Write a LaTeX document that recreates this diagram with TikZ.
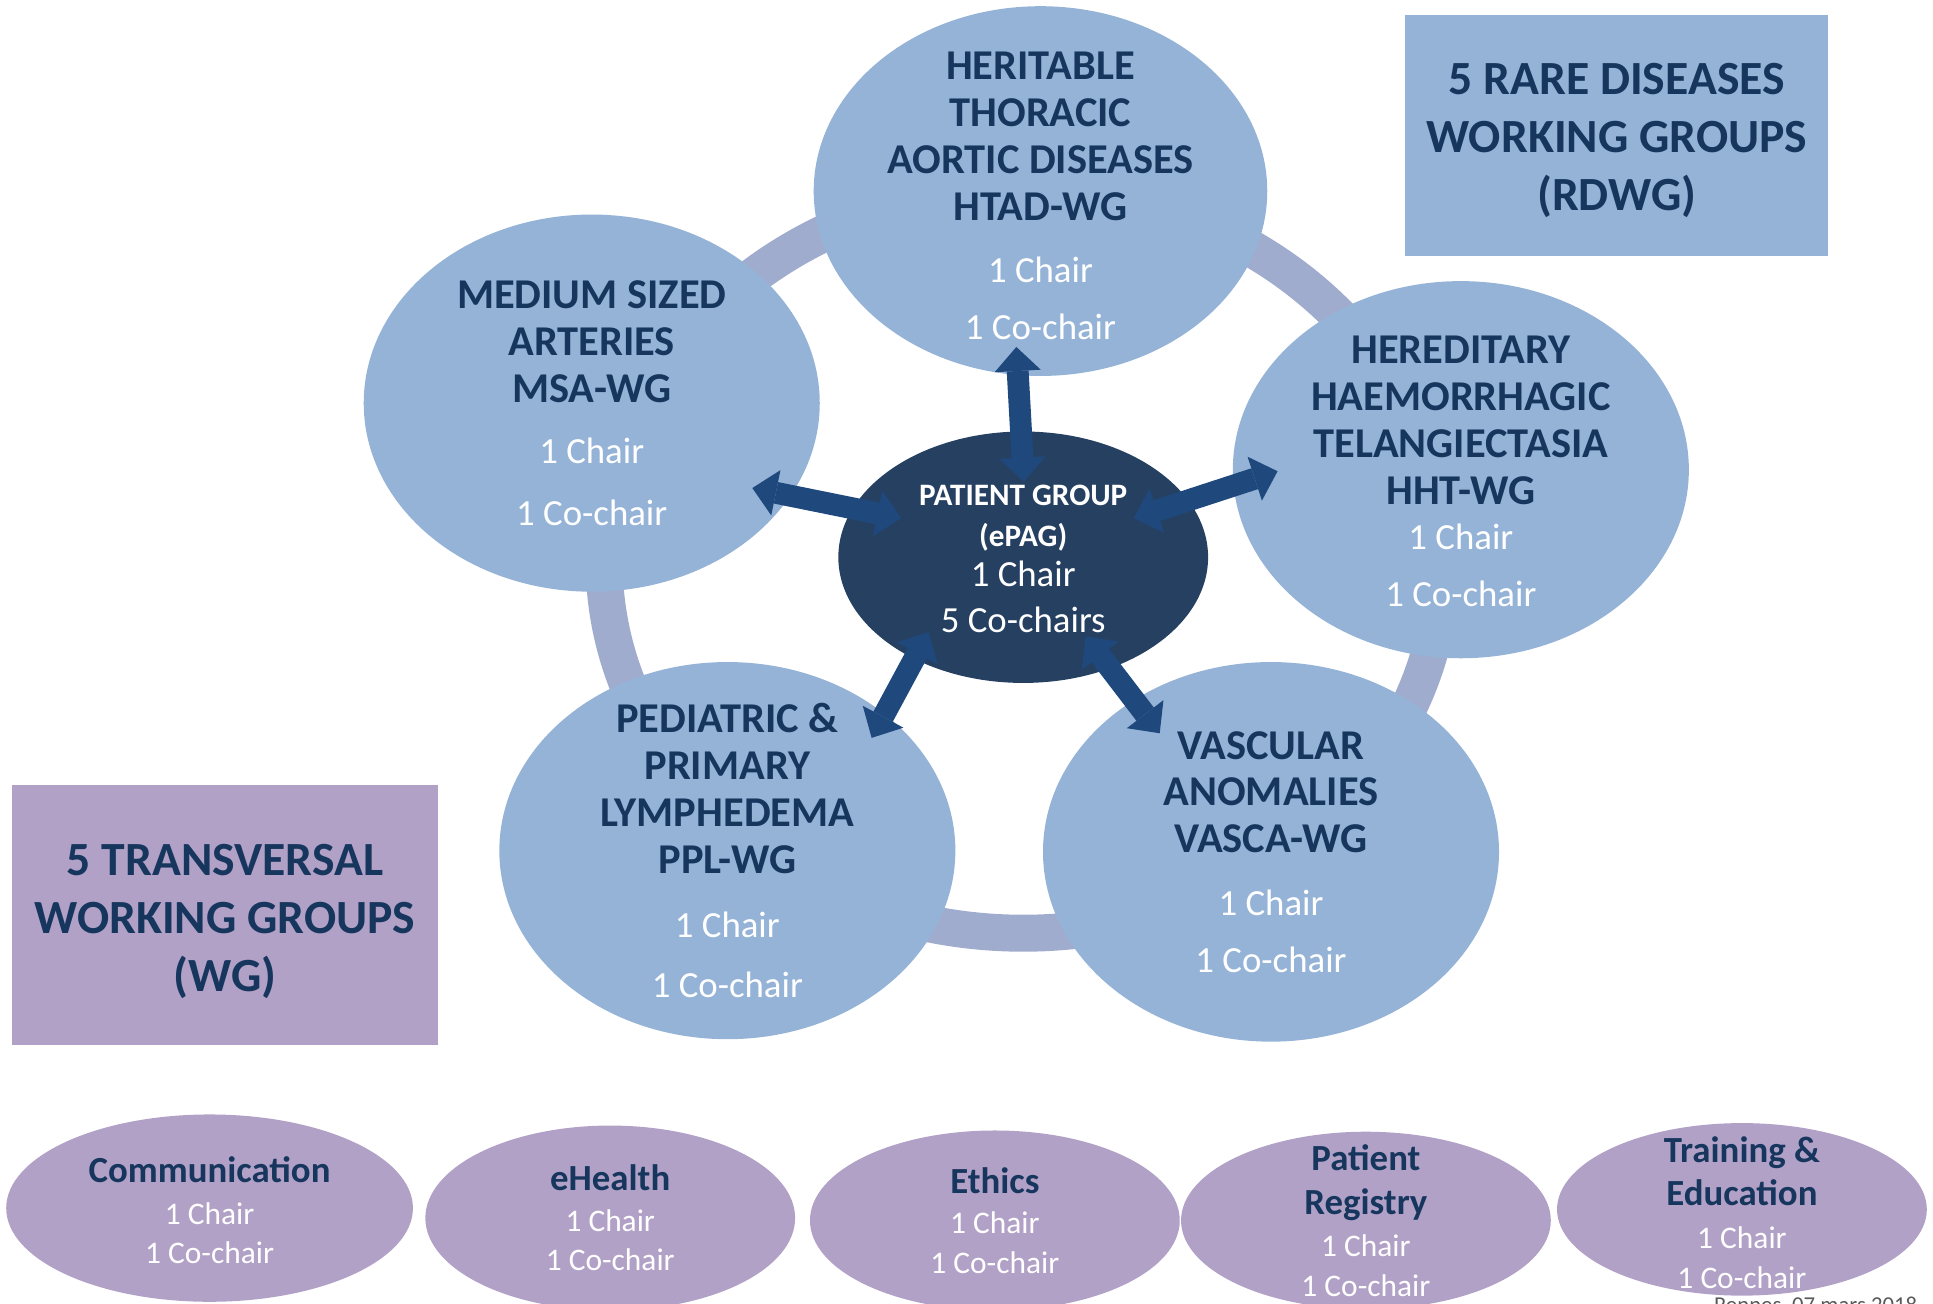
\documentclass[tikz,border=0pt]{standalone}
\usepackage{fontspec}
\setmainfont{Carlito}
\usetikzlibrary{shapes.geometric}
\usetikzlibrary{arrows.meta}

\definecolor{rdblue}{RGB}{149,179,215}
\definecolor{wglilac}{RGB}{178,161,199}
\definecolor{titlenavy}{RGB}{23,54,93}
\definecolor{epagnavy}{RGB}{38,64,98}
\definecolor{arrowblue}{RGB}{31,73,125}
\definecolor{ringblue}{RGB}{160,172,206}
\definecolor{footgray}{RGB}{89,89,89}

\newcommand{\ttl}[1]{\textbf{\textcolor{titlenavy}{#1}}}
\newcommand{\chr}[1]{{\fontsize{17}{21.6}\selectfont #1}}
\newcommand{\sttl}[1]{{\fontsize{17}{18.2}\selectfont\bfseries\color{titlenavy}#1}}

\begin{document}
\begin{tikzpicture}[x=0.02cm,y=-0.02cm,
  rdnode/.style={ellipse,fill=rdblue,inner sep=0pt,outer sep=0pt,minimum width=7.4cm,minimum height=6.12cm},
  twnode/.style={ellipse,fill=wglilac,inner sep=0pt,outer sep=0pt,minimum width=6cm},
  wgtext/.style={align=center,text=white,inner sep=0pt,font=\fontsize{19.6}{21.6}\selectfont},
  twtext/.style={align=center,text=white,inner sep=0pt,font=\fontsize{14.5}{18.2}\selectfont},
  headbox/.style={rectangle,inner sep=0pt,outer sep=0pt},
  headtext/.style={inner sep=0pt,align=center,text=titlenavy,font=\fontsize{22}{26.7}\selectfont\bfseries},
  biarrow/.style={color=arrowblue,line width=0.355cm,>={Triangle[width=0.75cm,length=0.39cm,line width=0pt,fill=arrowblue]},<->}
]
\useasboundingbox (0,0) rectangle (1568,1057);

% ring behind the rare disease groups
\draw[ringblue,line width=0.6cm] (830,455) ellipse [x radius=340,y radius=302];

\node[rdnode,minimum width=7.36cm,minimum height=6cm] (htad) at (844,155) {};
\node[rdnode] (msa) at (480,327) {};
\node[rdnode] (hht) at (1185,381) {};
\node[rdnode] (ppl) at (590,690) {};
\node[rdnode,minimum height=6.16cm] (vasca) at (1031,691) {};
\node[ellipse,fill=epagnavy,inner sep=0pt,outer sep=0pt,minimum width=6cm,minimum height=4.08cm] (epag) at (830,452) {};

\path[biarrow]
    (epag.91.5) edge[shorten <=-0.814cm,shorten >=-0.456cm] (htad.263.7)
    (epag.164.2) edge[shorten <=-0.80cm,shorten >=-0.63cm] (msa.335.8)
    (epag.19) edge[shorten <=-0.926cm,shorten >=-0.75cm] (hht.184.6)
    (epag.223.1) edge[shorten <=-0.49cm,shorten >=-0.44cm] (ppl.41.25)
    (epag.308.9) edge[shorten <=-0.65cm,shorten >=-0.68cm] (vasca.132.4)
;

\node[wgtext] (htad-txt) at ([yshift=-0.08cm]htad.center) {\ttl{HERITABLE}\\\ttl{THORACIC}\\\ttl{AORTIC DISEASES}\\\ttl{HTAD-WG}\\[7.4pt]\chr{1 Chair}\\[4.5pt]\chr{1 Co-chair}};
\node[wgtext] (msa-txt) at (msa) {\ttl{MEDIUM SIZED}\\\ttl{ARTERIES}\\\ttl{MSA-WG}\\[6.8pt]\chr{1 Chair}\\[6.8pt]\chr{1 Co-chair}};
\node[wgtext] (hht-txt) at ([yshift=-0.03cm]hht.center) {\ttl{HEREDITARY}\\\ttl{HAEMORRHAGIC}\\\ttl{TELANGIECTASIA}\\\ttl{HHT-WG}\\[-0.6pt]\chr{1 Chair}\\[4.5pt]\chr{1 Co-chair}};
\node[wgtext] (ppl-txt) at (ppl) {\ttl{PEDIATRIC \&}\\\ttl{PRIMARY}\\\ttl{LYMPHEDEMA}\\\ttl{PPL-WG}\\[8pt]\chr{1 Chair}\\[6.3pt]\chr{1 Co-chair}};
\node[wgtext] (vasca-txt) at (vasca) {\ttl{VASCULAR}\\\ttl{ANOMALIES}\\\ttl{VASCA-WG}\\[7.4pt]\chr{1 Chair}\\[4.5pt]\chr{1 Co-chair}};
\node[align=center,text=white,inner sep=0pt,font=\fontsize{17}{18.7}\selectfont] (epag-txt) at ([yshift=-0.03cm]epag.center)
    {{\fontsize{14.4}{18.5}\selectfont\bfseries PATIENT GROUP}\\{\fontsize{14.4}{18.5}\selectfont\bfseries (ePAG)}\\1 Chair\\[2.5pt]5 Co-chairs};

\node[headbox,fill=rdblue,minimum width=6.86cm,minimum height=3.92cm] (rdwg) at (1311.5,110) {};
\node[headbox,fill=wglilac,minimum width=6.9cm,minimum height=4.22cm] (twg) at (182.5,742.5) {};
\node[headtext] (rdwg-txt) at ([yshift=-0.08cm]rdwg.center) {5 RARE DISEASES\\WORKING GROUPS\\(RDWG)};
\node[headtext] (twg-txt) at ([yshift=-0.1cm]twg.center) {5 TRANSVERSAL\\WORKING GROUPS\\(WG)};

% transversal groups
\node[twnode,minimum width=6.6cm,minimum height=3.04cm] (comm) at (170,980) {};
\node[twnode,minimum height=3cm] (ehealth) at (495,988) {};
\node[twnode,minimum height=2.92cm] (ethics) at (807,990) {};
\node[twnode,minimum height=2.88cm] (registry) at (1108,990) {};
\node[twnode,minimum height=2.8cm] (training) at (1413,981) {};
\node[twtext] (comm-txt) at ([yshift=-0.03cm]comm.center) {\sttl{Communication}\\[1.1pt]1 Chair\\1 Co-chair};
\node[twtext] (ehealth-txt) at (ehealth) {\sttl{eHealth}\\[0.6pt]1 Chair\\1 Co-chair};
\node[twtext] (ethics-txt) at (ethics) {\sttl{Ethics}\\[0.6pt]1 Chair\\1 Co-chair};
\node[twtext] (registry-txt) at (registry) {\sttl{Patient}\\[2.3pt]\sttl{Registry}\\[1.1pt]1 Chair\\1 Co-chair};
\node[twtext] (training-txt) at ([yshift=-0.05cm]training.center) {\sttl{Training \&}\\[1.7pt]\sttl{Education}\\[1.7pt]1 Chair\\1 Co-chair};

\node[anchor=north west,inner sep=0pt,text=footgray,font=\fontsize{10.5}{12}\selectfont] (footer) at (1390,1052) {Rennes, 07 mars 2018};
\end{tikzpicture}
\end{document}
